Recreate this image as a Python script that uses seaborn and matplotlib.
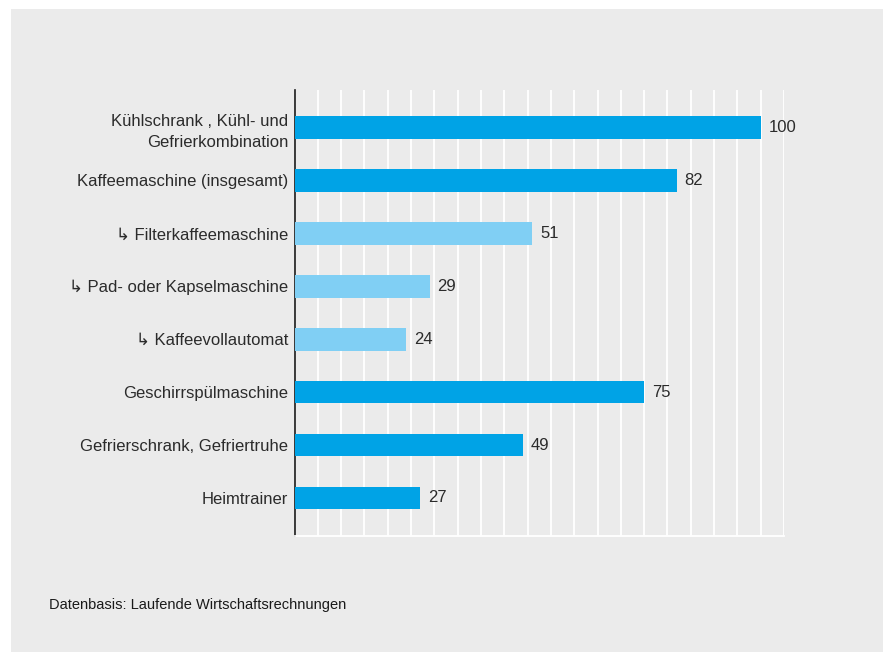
import matplotlib
matplotlib.use("Agg")
import matplotlib.pyplot as plt
import seaborn as sns
import pandas as pd
from matplotlib.patches import Rectangle

categories = [
    "Kühlschrank , Kühl- und\nGefrierkombination",
    "Kaffeemaschine (insgesamt)",
    "↳ Filterkaffeemaschine",
    "↳ Pad- oder Kapselmaschine",
    "↳ Kaffeevollautomat",
    "Geschirrspülmaschine",
    "Gefrierschrank, Gefriertruhe",
    "Heimtrainer",
]
values = [100, 82, 51, 29, 24, 75, 49, 27]
kind = ["main", "main", "sub", "sub", "sub", "main", "main", "main"]

DARK = "#00a3e6"
LIGHT = "#80cff4"
BG = "#ebebeb"
TXT = "#2b2b2b"

sns.set_theme(style="white")
plt.rcParams["font.family"] = ["Liberation Sans", "DejaVu Sans"]

df = pd.DataFrame({"cat": categories, "val": values, "kind": kind})

W, H = 883, 652
fig = plt.figure(figsize=(W / 100, H / 100), dpi=100)
fig.patch.set_facecolor("white")
fig.patches.append(Rectangle((11 / W, 0), 1, 1 - 9 / H, transform=fig.transFigure,
                             facecolor=BG, edgecolor="none", zorder=-10))

left, right, top, bottom = 294.5, 784, 90, 536
ax = fig.add_axes([left / W, 1 - bottom / H, (right - left) / W, (bottom - top) / H])
ax.set_facecolor(BG)

sns.barplot(data=df, x="val", y="cat", hue="kind", palette={"main": DARK, "sub": LIGHT},
            orient="h", width=0.43, legend=False, ax=ax, saturation=1, zorder=3,
            linewidth=0, edgecolor="none")

ax.set_xlim(0, 105)
ax.set_ylim(len(categories) - 1 + 0.72, -0.71)
ax.set_xticks(range(0, 106, 5))
ax.xaxis.grid(True, color="white", linewidth=1.3, zorder=0)
ax.yaxis.grid(False)
ax.set_axisbelow(True)
ax.tick_params(axis="x", length=0, labelbottom=False)
ax.tick_params(axis="y", length=0, pad=4.5, labelsize=12, labelcolor=TXT)
for lab in ax.get_yticklabels():
    lab.set_horizontalalignment("right")
    lab.set_multialignment("right")
    lab.set_linespacing(1.5)
ax.set_xlabel("")
ax.set_ylabel("")
for s in ["top", "right"]:
    ax.spines[s].set_visible(False)
ax.spines["left"].set_color("#1a1a1a")
ax.spines["left"].set_linewidth(1.2)
ax.spines["bottom"].set_color("white")
ax.spines["bottom"].set_linewidth(1.3)

for i, v in enumerate(values):
    ax.text(v + 1.7, i, f"{v}", va="center", ha="left", fontsize=12, color=TXT)

fig.text(49 / W, 1 - 605 / H, "Datenbasis: Laufende Wirtschaftsrechnungen",
         fontsize=10.5, color="#1a1a1a", va="center", ha="left")

fig.savefig("out.png", dpi=100, facecolor=fig.get_facecolor())
